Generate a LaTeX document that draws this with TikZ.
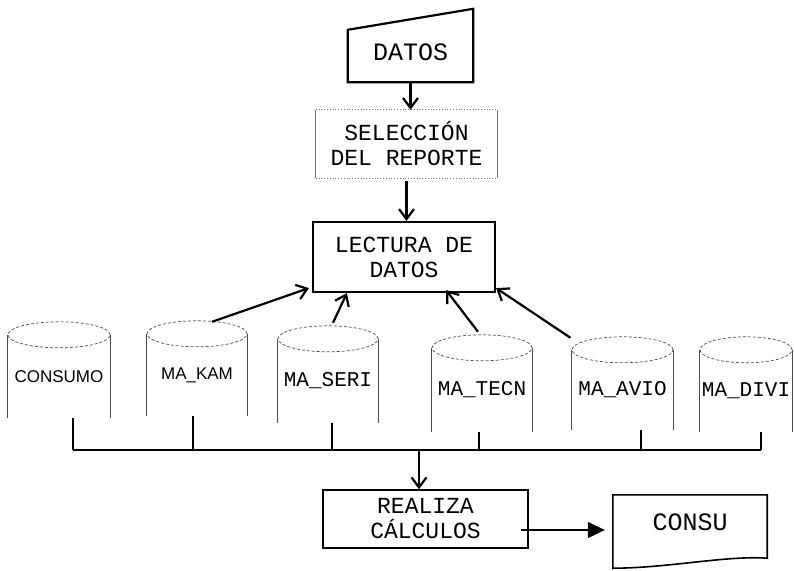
\documentclass[tikz,border=0pt]{standalone}
\usepackage{fontspec}
\setmainfont{Liberation Mono}
\newfontfamily\sansf{Liberation Sans}
\usetikzlibrary{arrows.meta}
\begin{document}
\begin{tikzpicture}[x=1pt,y=-1pt,
  txt/.style={font=\fontsize{23}{25}\selectfont, align=center, inner sep=0pt},
  boxthick/.style={draw, line width=2.2pt},
  boxmid/.style={draw, line width=1.6pt},
  selline/.style={draw=black!55, line width=0.8pt},
  cylmono/.style={inner sep=0pt, font=\fontsize{21}{24}\selectfont},
  cylsans/.style={inner sep=0pt, font=\sansf\fontsize{17}{20}\selectfont},
  cylline/.style={draw=black!70, line width=0.7pt},
  arr/.style={line width=2.2pt, -{Straight Barb[length=10pt,width=15pt,line width=2.2pt]}},
  arrfill/.style={line width=1.4pt, -{Triangle[length=17pt,width=16pt]}},
  busline/.style={line width=2.2pt},
]
\useasboundingbox (0,0) rectangle (794,570);

% DATOS (manual input)
\node[txt, font=\fontsize{25}{28}\selectfont, minimum width=125pt, minimum height=52pt] (datos) at (410.5,56) {\raisebox{7pt}{DATOS}};
\draw[boxthick] (datos.south west) -- (datos.north west) -- ([shift={(0,-21)}]datos.north east) -- (datos.south east) -- cycle;

% SELECCION DEL REPORTE
\node[txt, minimum width=181pt, minimum height=68pt] (sel) at (406.5,144) {SELECCIÓN\\DEL REPORTE};
\draw[selline] (sel.north west) -- (sel.south west);
\draw[selline] (sel.north east) -- (sel.south east);
\draw[selline, dotted] (sel.north west) -- (sel.north east);
\draw[selline, dotted] (sel.south west) -- (sel.south east);

% LECTURA DE DATOS
\node[txt, boxthick, minimum width=182pt, minimum height=70pt] (lect) at (404,257) {LECTURA DE\\DATOS};

\draw[arr] (datos.south) -- (datos.south |- sel.north);
\draw[arr] ([shift={(0,3)}]sel.south) -- (sel.south |- lect.north);

% cylinders (body nodes)
\node[cylsans, minimum width=102pt, minimum height=83pt] (consumo) at (59,376.5) {CONSUMO};
\node[cylsans, minimum width=100pt, minimum height=82pt] (kam) at (197,375) {MA\_KAM};
\node[cylmono, minimum width=100pt, minimum height=84pt] (seri) at (328,381) {MA\_SERI};
\node[cylmono, minimum width=100pt, minimum height=84pt] (tecn) at (482,390) {MA\_TECN};
\node[cylmono, minimum width=101pt, minimum height=80pt] (avio) at (622.5,390) {MA\_AVIO};
\node[cylmono, minimum width=92pt, minimum height=82pt] (divi) at (746,391) {MA\_DIVI};

\foreach \n/\r in {consumo/51,kam/50,seri/50,tecn/50,avio/50.5,divi/46}{
  \draw[cylline] (\n.north west) -- (\n.south west);
  \draw[cylline] (\n.north east) -- (\n.south east);
  \draw[cylline, densely dashed] (\n.north) ellipse [x radius=\r pt, y radius=13pt];
}

% arrows into LECTURA
\draw[arr] ([shift={(15,-12)}]kam.north) -- ([shift={(-3,-5)}]lect.south west);
\draw[arr] ([shift={(5,-16)}]seri.north) -- ([shift={(35,0)}]lect.south west);
\draw[arr] ([shift={(-4,-16)}]tecn.north) -- ([shift={(-50,-3)}]lect.south east);
\draw[arr] ([shift={(-52,-12)}]avio.north) -- ([shift={(0,-5)}]lect.south east);

% bus
\coordinate (busl) at (73,450);
\coordinate (busr) at (761,450);
\coordinate (busm) at (419,450);
\draw[busline] (busl) -- (busr);
\foreach \n/\s in {consumo/14,kam/-4,seri/4,tecn/-3,avio/18.5,divi/15}{
  \draw[busline] ([xshift=\s pt]\n.south) -- ([xshift=\s pt]\n.south |- busl);
}

% REALIZA CALCULOS
\node[txt, boxmid, minimum width=205pt, minimum height=58pt] (real) at (425.5,519) {REALIZA\\CÁLCULOS};
\draw[arr] (busm) -- (busm |- real.north);

% CONSU (document)
\node[txt, font=\fontsize{25}{28}\selectfont, minimum width=154pt, minimum height=54pt] (consu) at (690,522) {CONSU};
\draw[line width=1.6pt] (consu.south west) -- (consu.north west) -- (consu.north east)
  -- ([shift={(0,9)}]consu.south east)
  .. controls ([shift={(-40,6)}]consu.south east) and ([shift={(-100,19)}]consu.south east) .. ([shift={(0,19)}]consu.south west) -- cycle;

\draw[arrfill] ([shift={(-8,11)}]real.east) -- ([shift={(-8,11)}]real.east -| consu.west);
\end{tikzpicture}
\end{document}
